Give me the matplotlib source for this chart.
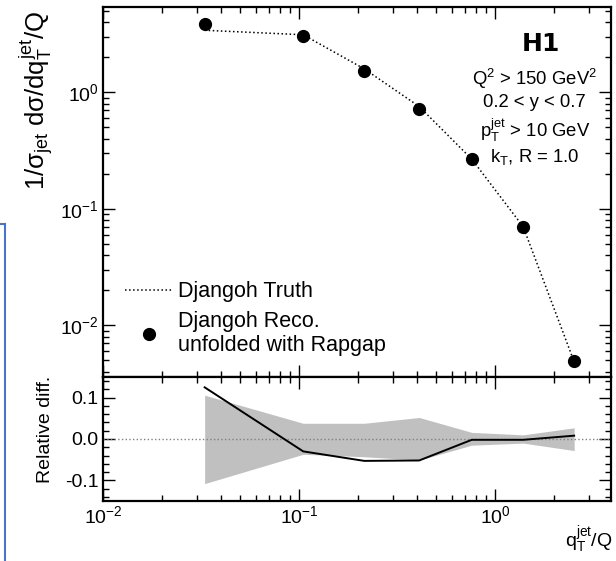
import matplotlib
matplotlib.use("Agg")
import matplotlib.pyplot as plt
from matplotlib.ticker import AutoMinorLocator, LogLocator, NullFormatter
from matplotlib.lines import Line2D

plt.rcParams['font.family'] = ['Liberation Sans', 'DejaVu Sans']
plt.rcParams['mathtext.fontset'] = 'custom'
plt.rcParams['mathtext.rm'] = 'Liberation Sans'
plt.rcParams['mathtext.it'] = 'Liberation Sans'
plt.rcParams['mathtext.bf'] = 'Liberation Sans:bold'
plt.rcParams['axes.unicode_minus'] = False

# ---- data ----
qt = [0.033, 0.105, 0.215, 0.41, 0.76, 1.39, 2.53]
reco = [3.84, 3.03, 1.51, 0.715, 0.266, 0.070, 0.0049]
truth = [3.41, 3.12, 1.59, 0.755, 0.267, 0.0702, 0.00486]

rel_diff = [0.125, -0.030, -0.053, -0.052, -0.002, -0.002, 0.008]
band_up = [0.106, 0.038, 0.038, 0.052, 0.016, 0.010, 0.027]
band_lo = [-0.108, -0.037, -0.043, -0.051, -0.015, -0.010, -0.028]

fig = plt.figure(figsize=(6.16, 5.61), dpi=100)
ax = fig.add_axes([0.1672, 0.328, 0.8247, 0.6595])
rax = fig.add_axes([0.1672, 0.107, 0.8247, 0.221], sharex=ax)

# main panel
ax.plot(qt, truth, ls=':', color='black', lw=1.1, label='Djangoh Truth')
ax.plot(qt, reco, 'o', color='black', ms=8.5, ls='none',
        label='Djangoh Reco.\nunfolded with Rapgap')
ax.set_xscale('log')
ax.set_yscale('log')
ax.set_xlim(0.01, 3.9)
ax.set_ylim(0.0036, 5.4)
ax.set_ylabel(r'$1/\sigma_{\rm jet}\ d\sigma/dq_{\rm T}^{\rm jet}/Q$', fontsize=18.5, loc='top')
ax.yaxis.set_label_coords(-0.092, 0.99)
ax.yaxis.set_major_locator(LogLocator(base=10, numticks=10))
ax.yaxis.set_minor_locator(LogLocator(base=10, subs=range(2, 10), numticks=10))
ax.yaxis.set_minor_formatter(NullFormatter())
plt.setp(ax.get_xticklabels(), visible=False)

ax.legend(loc='lower left', bbox_to_anchor=(0.006, 0.005), frameon=False,
          fontsize=15.5, handlelength=2.2, handletextpad=0.25, labelspacing=0.38)

ax.text(0.862, 0.9, 'H1', transform=ax.transAxes, ha='center', va='center',
        fontsize=18, fontweight='bold', family='DejaVu Sans')
ax.text(0.85, 0.838, 'Q$^2$ > 150 GeV$^2$\n0.2 < y < 0.7\np$_{\\rm T}^{\\rm jet}$ > 10 GeV\nk$_{\\rm T}$, R = 1.0',
        transform=ax.transAxes, ha='center', va='top', fontsize=13.3,
        linespacing=1.25)

# ratio panel
rax.fill_between(qt, band_lo, band_up, color='#c0c0c0', lw=0)
rax.axhline(0, color='gray', ls=':', lw=1)
rax.plot(qt, rel_diff, color='black', lw=1.4)
rax.set_ylim(-0.15, 0.15)
rax.set_yticks([-0.1, 0.0, 0.1])
rax.set_yticklabels(['-0.1', '0.0', '0.1'])
rax.yaxis.set_minor_locator(AutoMinorLocator(5))
rax.set_ylabel('Relative diff.', fontsize=14, loc='top')
rax.yaxis.set_label_coords(-0.097, 1.01)
rax.set_xlabel(r'q$_{\rm T}^{\rm jet}$/Q', fontsize=14, loc='right')
rax.xaxis.set_label_coords(1.003, -0.19)

for a in (ax, rax):
    a.tick_params(which='both', direction='in', top=True, right=True, labelsize=14, pad=3)
    a.tick_params(which='major', length=8.5, width=1)
    a.tick_params(which='minor', length=4.3, width=1)
    for s in a.spines.values():
        s.set_linewidth(1.6)
rax.tick_params(axis='x', pad=3)

# blue selection edge seen at the left of the reference
fig.add_artist(Line2D([0.008, 0.008], [0.0, 0.6], color='#4a74c9', lw=1.5,
                      transform=fig.transFigure))
fig.add_artist(Line2D([0.0, 0.008], [0.6, 0.6], color='#4a74c9', lw=1.5,
                      transform=fig.transFigure))

fig.savefig('out.png', dpi=100)
